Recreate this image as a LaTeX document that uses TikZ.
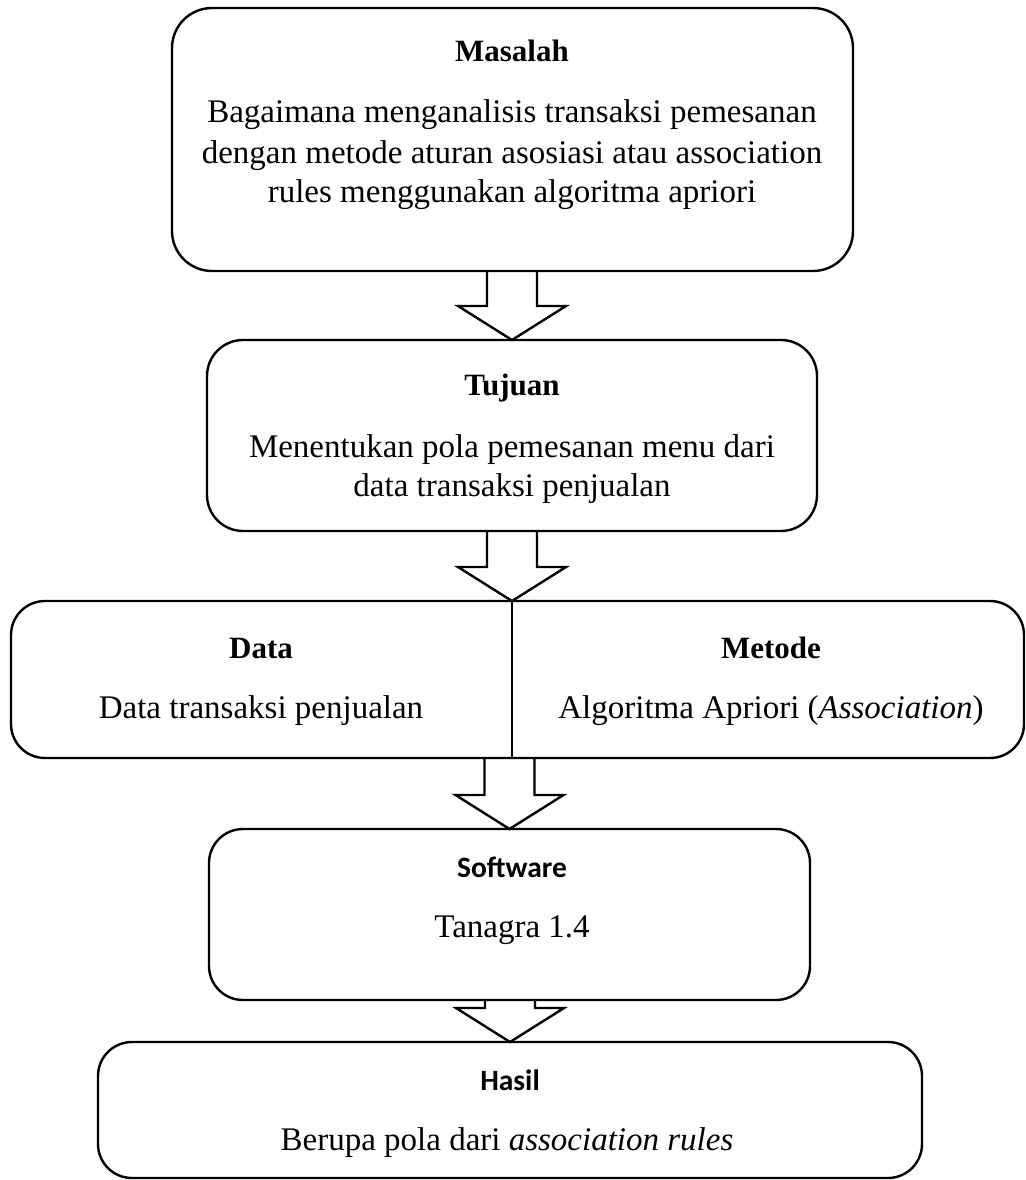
\documentclass[tikz,border=0pt]{standalone}
\usepackage{fontspec}
\setmainfont{Liberation Serif}
\newfontfamily\calib{Carlito}
\usetikzlibrary{calc,backgrounds}
\tikzset{
  box/.style={draw, line width=2.4pt, rounded corners=40pt, inner sep=0pt, outer sep=0pt},
  blockarr/.style={draw, line width=2.4pt, fill=white, line join=miter},
  ttl/.style={anchor=base, inner sep=0pt, font=\fontsize{31}{37}\selectfont\bfseries},
  sttl/.style={anchor=base, inner sep=0pt, font=\fontsize{29.5}{35}\selectfont\calib\bfseries},
  txt/.style={anchor=base, inner sep=0pt, font=\fontsize{33}{39.5}\selectfont},
  divider/.style={line width=1.2pt}
}
\newcommand\blockarrow[3]{%
  \draw[blockarr] let \p1=(#1.south), \p2=(#2.north), \p3=(#3) in
    (\x3-25pt,\y1) -- (\x3-25pt,\y2+34pt) -- (\x3-54pt,\y2+34pt) -- (\x3,\y2)
    -- (\x3+54pt,\y2+34pt) -- (\x3+25pt,\y2+34pt) -- (\x3+25pt,\y1);}
\begin{document}
\begin{tikzpicture}[x=1pt,y=-1pt]
\useasboundingbox (0,0) rectangle (1025,1180);
% boxes
\node[box, minimum width=681pt, minimum height=263pt] (b1) at (512.5,139.5) {};
\node[box, rounded corners=36pt, minimum width=610pt, minimum height=191pt] (b2) at (512,435.5) {};
\node[box, rounded corners=34pt, minimum width=1013pt, minimum height=157pt] (b3) at (517.5,679.5) {};
\node[box, rounded corners=34pt, minimum width=601pt, minimum height=171pt] (b4) at (509.5,914.5) {};
\node[box, rounded corners=34pt, minimum width=824pt, minimum height=136pt] (b5) at (510,1110) {};
% divider
\draw[divider] (b2.south |- b3.north) -- (b2.south |- b3.south);
% arrows
\begin{scope}[on background layer]
\blockarrow{b1}{b2}{b2.north}
\blockarrow{b2}{b3}{b2.south}
\blockarrow{b3}{b4}{b4.north}
\blockarrow{b4}{b5}{b5.north}
\end{scope}
% texts
\node[ttl] (t1) at (512,62) {Masalah};
\node[txt] (l1a) at (512,123) {Bagaimana menganalisis transaksi pemesanan};
\node[txt] (l1b) at (512,163) {dengan metode aturan asosiasi atau association};
\node[txt] (l1c) at (512,202) {rules menggunakan algoritma apriori};
\node[ttl] (t2) at (512,395) {Tujuan};
\node[txt] (l2a) at (512,457) {Menentukan pola pemesanan menu dari};
\node[txt] (l2b) at (512,496) {data transaksi penjualan};
\node[ttl] (t3) at (261,658) {Data};
\node[txt] (l3) at (261,718) {Data transaksi penjualan};
\node[ttl] (t4) at (771,658) {Metode};
\node[txt] (l4) at (771,718) {Algoritma Apriori (\textit{Association})};
\node[sttl] (t5) at (512,877) {Software};
\node[txt] (l5) at (512,937) {Tanagra 1.4};
\node[sttl] (t6) at (510,1090) {Hasil};
\node[txt] (l6) at (507,1150) {Berupa pola dari \textit{association rules}};
\end{tikzpicture}
\end{document}
